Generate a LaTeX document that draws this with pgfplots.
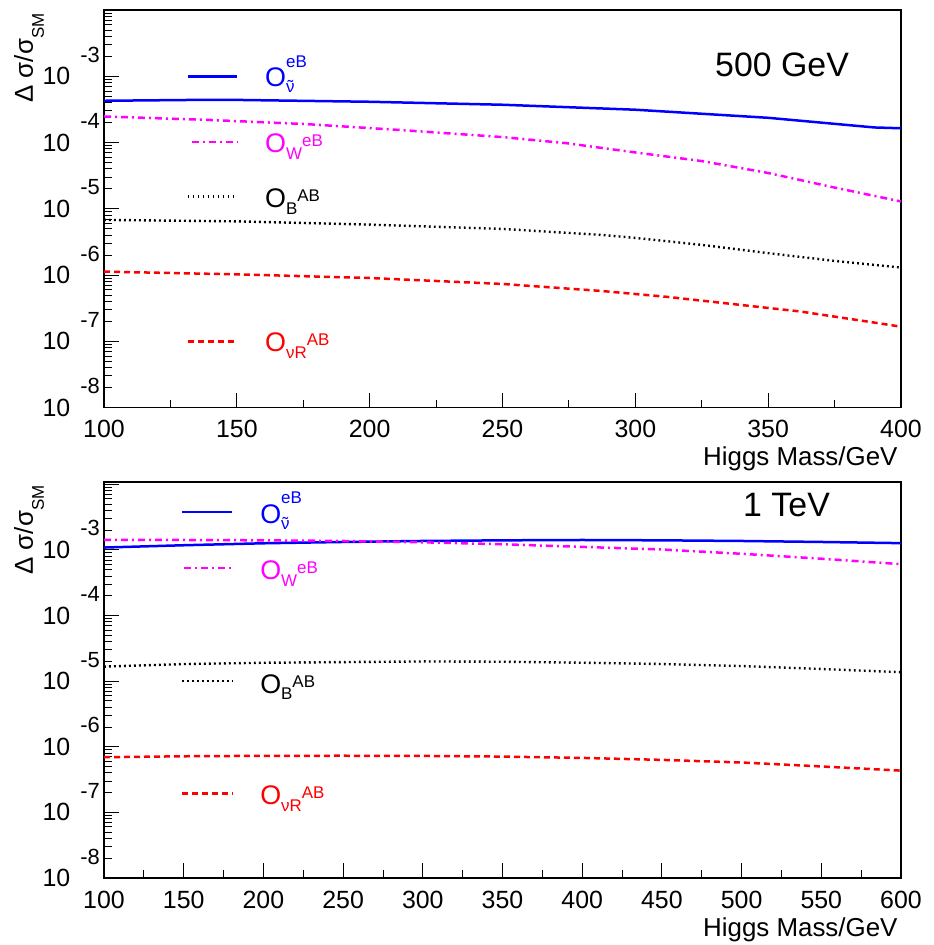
\documentclass[border=0pt]{standalone}
\usepackage{fontspec}
\setmainfont{Liberation Sans}
\usepackage{pgfplots}
\pgfplotsset{compat=1.18}

\definecolor{rootblue}{RGB}{0,0,255}
\definecolor{rootmag}{RGB}{255,0,255}
\definecolor{rootred}{RGB}{255,0,0}

\newcommand{\ytl}[1]{10\hspace{10bp}\smash{\raisebox{22.5bp}{\fontsize{22}{22}\selectfont #1}}}
\newcommand{\sfs}{\fontsize{17}{17}\selectfont}
\newcommand{\nut}{\ooalign{ν\cr\hidewidth ˜\hidewidth\cr}}
\newcommand{\Ostk}[2]{O\makebox[0pt][l]{\raisebox{19.3bp}{\sfs #1}}\raisebox{-6.5bp}{\sfs #2}}
\newcommand{\Oseq}[2]{O\raisebox{-6.5bp}{\sfs #1}\raisebox{6bp}{\sfs #2}}
\newcommand{\ylab}{\fontsize{26}{26}\selectfont Δ σ/σ\raisebox{-11bp}{\fontsize{17}{17}\selectfont SM}}

\tikzset{
  bl/.style={rootblue, line width=2.5bp},
  mg/.style={rootmag, line width=2.5bp, dash pattern=on 7bp off 4bp on 2bp off 4bp},
  bk/.style={black, line width=2.4bp, dash pattern=on 1.8bp off 3.2bp},
  rd/.style={rootred, line width=2.5bp, dash pattern=on 6bp off 4bp},
}

\begin{document}
\begin{tikzpicture}
\useasboundingbox (0,0) rectangle (934bp,-945bp);

% ---------------- top panel: 500 GeV ----------------
\begin{axis}[
  at={(104bp,-407.5bp)}, anchor=south west, height=397.5bp,
  scale only axis, width=797bp, ymode=log, ymin=1e-8, ymax=1e-2,
  xmin=100, xmax=400,
  axis line style={line width=1.2bp, black},
  tick align=inside, xtick pos=left, ytick pos=left,
  major tick length=15bp, minor tick length=8bp,
  every tick/.append style={line width=0.9bp, black},
  ytick={1e-8,1e-7,1e-6,1e-5,1e-4,1e-3,1e-2},
  yticklabels={\ytl{-8},\ytl{-7},\ytl{-6},\ytl{-5},\ytl{-4},\ytl{-3},{}},
  minor ytick={2e-8,3e-8,4e-8,5e-8,6e-8,7e-8,8e-8,9e-8,
               2e-7,3e-7,4e-7,5e-7,6e-7,7e-7,8e-7,9e-7,
               2e-6,3e-6,4e-6,5e-6,6e-6,7e-6,8e-6,9e-6,
               2e-5,3e-5,4e-5,5e-5,6e-5,7e-5,8e-5,9e-5,
               2e-4,3e-4,4e-4,5e-4,6e-4,7e-4,8e-4,9e-4,
               2e-3,3e-3,4e-3,5e-3,6e-3,7e-3,8e-3,9e-3},
  /pgf/number format/assume math mode=true,
  tick label style={font=\fontsize{25}{25}\selectfont},
  xticklabel style={inner sep=0pt, yshift=-12.5bp},
  yticklabel style={inner sep=0pt, xshift=-4bp, anchor=east},
  ylabel={\ylab},
  ylabel style={at={(axis description cs:-0.0891,1)}, anchor=base east},
  xlabel={Higgs Mass/GeV},
  xlabel style={at={(axis description cs:1,-0.1459)}, anchor=base east, font=\fontsize{26}{26}\selectfont},
  xtick={100,150,200,250,300,350,400},
  minor xtick={125,175,225,275,325,375},
]
\addplot[bl] coordinates {(100,4.266e-4) (140,4.416e-4) (150,4.395e-4) (200,4.121e-4) (250,3.715e-4) (300,3.126e-4) (350,2.360e-4) (390,1.687e-4) (400,1.641e-4)};
\addplot[mg] coordinates {(100,2.472e-4) (140,2.188e-4) (176,1.897e-4) (211,1.549e-4) (250,1.208e-4) (274,9.772e-5) (300,7.079e-5) (325,5.248e-5) (350,3.467e-5) (375,2.089e-5) (400,1.288e-5)};
\addplot[bk] coordinates {(100,6.792e-6) (150,6.457e-6) (200,5.754e-6) (250,4.966e-6) (287,4.036e-6) (300,3.631e-6) (325,2.851e-6) (350,2.138e-6) (375,1.633e-6) (400,1.294e-6)};
\addplot[rd] coordinates {(100,1.125e-6) (150,1.023e-6) (200,9.016e-7) (250,7.328e-7) (287,5.754e-7) (312,4.677e-7) (337,3.631e-7) (362,2.818e-7) (387,1.995e-7) (400,1.660e-7)};
% legend samples
\addplot[bl, forget plot] coordinates {(131.5,1.0e-3) (150,1.0e-3)};
\addplot[mg, forget plot] coordinates {(133,1.01e-4) (150,1.01e-4)};
\addplot[bk, forget plot] coordinates {(131.5,1.53e-5) (150,1.53e-5)};
\addplot[rd, forget plot] coordinates {(131.5,9.86e-8) (150,9.86e-8)};
\node[anchor=base west, inner sep=0pt, text=rootblue, font=\fontsize{27}{27}\selectfont] at (axis cs:160.6,7.02e-4) {\Ostk{eB}{\nut}};
\node[anchor=base west, inner sep=0pt, text=rootmag, font=\fontsize{27}{27}\selectfont] at (axis cs:160.6,6.98e-5) {\Oseq{W}{eB}};
\node[anchor=base west, inner sep=0pt, text=black, font=\fontsize{27}{27}\selectfont] at (axis cs:160.6,1.03e-5) {\Oseq{B}{AB}};
\node[anchor=base west, inner sep=0pt, text=rootred, font=\fontsize{27}{27}\selectfont] at (axis cs:160.6,6.97e-8) {\Oseq{νR}{AB}};
\node[anchor=base west, inner sep=0pt, font=\fontsize{34}{34}\selectfont] at (axis cs:330,9.93e-4) {500 GeV};
\end{axis}

% ---------------- bottom panel: 1 TeV ----------------
\begin{axis}[
  at={(104bp,-878bp)}, anchor=south west, height=396bp,
  scale only axis, width=797bp, ymode=log, ymin=1e-8, ymax=1.08e-2,
  xmin=100, xmax=600,
  axis line style={line width=1.2bp, black},
  tick align=inside, xtick pos=left, ytick pos=left,
  major tick length=15bp, minor tick length=8bp,
  every tick/.append style={line width=0.9bp, black},
  ytick={1e-8,1e-7,1e-6,1e-5,1e-4,1e-3,1e-2},
  yticklabels={\ytl{-8},\ytl{-7},\ytl{-6},\ytl{-5},\ytl{-4},\ytl{-3},{}},
  minor ytick={2e-8,3e-8,4e-8,5e-8,6e-8,7e-8,8e-8,9e-8,
               2e-7,3e-7,4e-7,5e-7,6e-7,7e-7,8e-7,9e-7,
               2e-6,3e-6,4e-6,5e-6,6e-6,7e-6,8e-6,9e-6,
               2e-5,3e-5,4e-5,5e-5,6e-5,7e-5,8e-5,9e-5,
               2e-4,3e-4,4e-4,5e-4,6e-4,7e-4,8e-4,9e-4,
               2e-3,3e-3,4e-3,5e-3,6e-3,7e-3,8e-3,9e-3},
  /pgf/number format/assume math mode=true,
  tick label style={font=\fontsize{25}{25}\selectfont},
  xticklabel style={inner sep=0pt, yshift=-12.5bp},
  yticklabel style={inner sep=0pt, xshift=-4bp, anchor=east},
  ylabel={\ylab},
  ylabel style={at={(axis description cs:-0.0891,1)}, anchor=base east},
  xlabel={Higgs Mass/GeV},
  xlabel style={at={(axis description cs:1,-0.1465)}, anchor=base east, font=\fontsize{26}{26}\selectfont},
  xtick={100,150,200,250,300,350,400,450,500,550,600},
  minor xtick={125,175,225,275,325,375,425,475,525,575},
]
\addplot[bl] coordinates {(100,1.084e-3) (150,1.175e-3) (200,1.259e-3) (250,1.318e-3) (300,1.365e-3) (350,1.396e-3) (400,1.413e-3) (450,1.396e-3) (500,1.365e-3) (550,1.318e-3) (600,1.265e-3)};
\addplot[mg] coordinates {(100,1.419e-3) (150,1.413e-3) (200,1.396e-3) (250,1.365e-3) (300,1.303e-3) (350,1.216e-3) (400,1.109e-3) (450,1.012e-3) (500,8.710e-4) (550,7.328e-4) (600,6.053e-4)};
\addplot[bk] coordinates {(100,1.663e-5) (150,1.820e-5) (200,1.905e-5) (250,1.950e-5) (300,1.995e-5) (350,1.972e-5) (400,1.905e-5) (450,1.820e-5) (500,1.698e-5) (550,1.531e-5) (600,1.368e-5)};
\addplot[rd] coordinates {(100,6.918e-7) (150,7.161e-7) (200,7.278e-7) (250,7.295e-7) (300,7.244e-7) (350,7.079e-7) (400,6.761e-7) (450,6.310e-7) (500,5.754e-7) (550,5.012e-7) (600,4.325e-7)};
% legend samples
\addplot[bl, forget plot] coordinates {(148.9,3.758e-3) (180.3,3.758e-3)};
\addplot[mg, forget plot] coordinates {(150.5,5.26e-4) (180.3,5.26e-4)};
\addplot[bk, forget plot] coordinates {(148.9,1.0e-5) (180.3,1.0e-5)};
\addplot[rd, forget plot] coordinates {(148.9,1.928e-7) (180.3,1.928e-7)};
\node[anchor=base west, inner sep=0pt, text=rootblue, font=\fontsize{27}{27}\selectfont] at (axis cs:197.9,2.55e-3) {\Ostk{eB}{\nut}};
\node[anchor=base west, inner sep=0pt, text=rootmag, font=\fontsize{27}{27}\selectfont] at (axis cs:197.9,3.49e-4) {\Oseq{W}{eB}};
\node[anchor=base west, inner sep=0pt, text=black, font=\fontsize{27}{27}\selectfont] at (axis cs:197.9,6.55e-6) {\Oseq{B}{AB}};
\node[anchor=base west, inner sep=0pt, text=rootred, font=\fontsize{27}{27}\selectfont] at (axis cs:197.9,1.30e-7) {\Oseq{νR}{AB}};
\node[anchor=base west, inner sep=0pt, font=\fontsize{34}{34}\selectfont] at (axis cs:500.9,3.22e-3) {1 TeV};
\end{axis}
\end{tikzpicture}
\end{document}
